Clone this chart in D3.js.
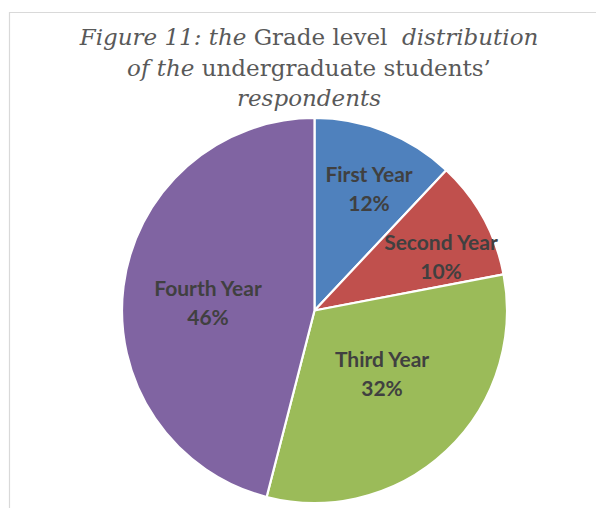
<!DOCTYPE html>
<html>
<head>
<meta charset="utf-8">
<script src="https://cdn.jsdelivr.net/npm/d3@7"></script>
<style>
  html, body { margin: 0; padding: 0; background: #fff; }
  svg { display: block; }
</style>
</head>
<body>
<div id="chart"></div>
<script>
// ---- data ----
const categories = ["First Year", "Second Year", "Third Year", "Fourth Year"];
const values = [12, 10, 32, 46];
const percentLabels = ["12%", "10%", "32%", "46%"];
const colors = ["#4F81BD", "#C0504D", "#9BBB59", "#8064A2"];

// ---- layout ----
const W = 596, H = 508;
const cx = 314.5, cy = 310.5, R = 192.5;
// label anchors relative to pie centre (Excel "best fit" placement)
const labelOffsets = [[54.5, -114], [126.5, -46], [67.5, 71], [-106.5, 0]];

const svg = d3.select("#chart").append("svg")
  .attr("width", W).attr("height", H);

// frame
svg.append("path")
  .attr("d", `M9.5,${H} L9.5,12.5 L${W},12.5`)
  .attr("fill", "none")
  .attr("stroke", "#d9d9d9")
  .attr("stroke-width", 1.2);

// title
const titleLines = [
  [["Figure 11: the", true], [" Grade level ", false], [" distribution", true]],
  [["of the", true], [" undergraduate students’", false]],
  [["respondents", true]]
];
const titleBaselines = [45, 76, 106];
const title = svg.append("g");
titleLines.forEach((parts, i) => {
  const t = title.append("text")
    .attr("x", 309)
    .attr("y", titleBaselines[i])
    .attr("text-anchor", "middle")
    .attr("font-family", "'DejaVu Serif', serif")
    .attr("font-size", 23)
    .attr("fill", "#595959")
    .attr("xml:space", "preserve")
    .style("white-space", "pre");
  parts.forEach(([s, it]) => {
    t.append("tspan").text(s).attr("font-style", it ? "italic" : "normal");
  });
});

// pie
const pie = d3.pie().sort(null).value(d => d);
const arcs = pie(values);
const arc = d3.arc().innerRadius(0).outerRadius(R);

const g = svg.append("g").attr("transform", `translate(${cx},${cy})`);
g.selectAll("path.slice")
  .data(arcs)
  .join("path")
  .attr("class", "slice")
  .attr("d", arc)
  .attr("fill", (d, i) => colors[i])
  .attr("stroke", "#fff")
  .attr("stroke-width", 2.2)
  .attr("stroke-linejoin", "round");

// labels
const lbl = g.selectAll("text.lbl")
  .data(arcs)
  .join("text")
  .attr("class", "lbl")
  .attr("text-anchor", "middle")
  .attr("font-family", "Lato, 'Open Sans', sans-serif")
  .attr("font-weight", "bold")
  .attr("font-size", 21)
  .attr("fill", "#404040")
  .attr("transform", (d, i) => `translate(${labelOffsets[i][0]},${labelOffsets[i][1]})`);
lbl.append("tspan").attr("x", 0).attr("y", -14.5).text((d, i) => categories[i]);
lbl.append("tspan").attr("x", 0).attr("y", 14.5).text((d, i) => percentLabels[i]);
</script>
</body>
</html>
